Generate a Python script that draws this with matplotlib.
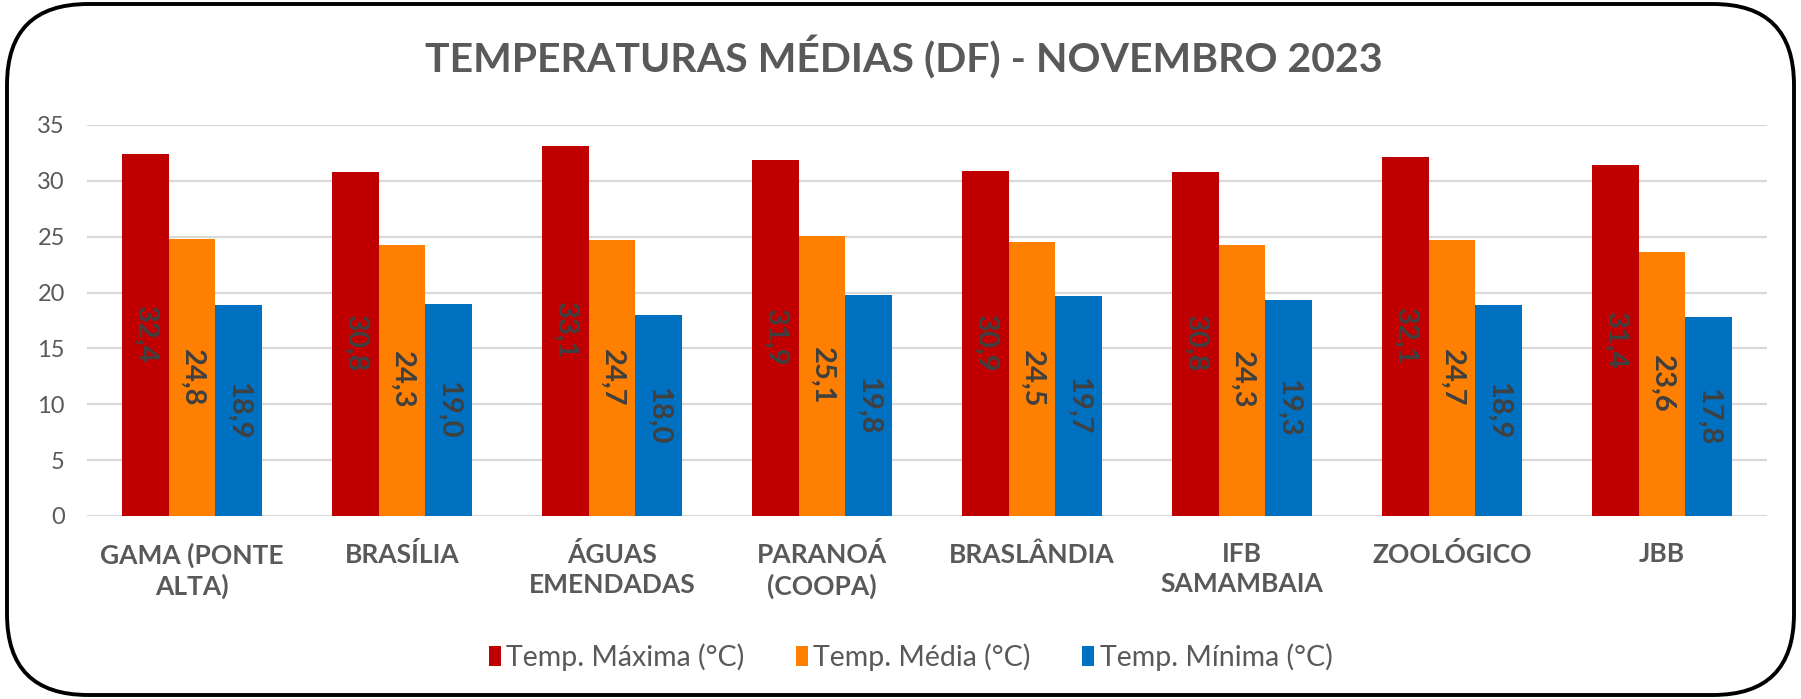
import matplotlib
matplotlib.use("Agg")
import matplotlib.pyplot as plt
from matplotlib.patches import Patch, FancyBboxPatch
import numpy as np

categories = ["GAMA (PONTE\nALTA)", "BRASÍLIA", "ÁGUAS\nEMENDADAS", "PARANOÁ\n(COOPA)",
              "BRASLÂNDIA", "IFB\nSAMAMBAIA", "ZOOLÓGICO", "JBB"]
temp_max = [32.4, 30.8, 33.1, 31.9, 30.9, 30.8, 32.1, 31.4]
temp_med = [24.8, 24.3, 24.7, 25.1, 24.5, 24.3, 24.7, 23.6]
temp_min = [18.9, 19.0, 18.0, 19.8, 19.7, 19.3, 18.9, 17.8]
series_names = ["Temp. Máxima (°C)", "Temp. Média (°C)", "Temp. Mínima (°C)"]
colors = ["#C00000", "#FF8000", "#0070C0"]
title = "TEMPERATURAS MÉDIAS (DF) - NOVEMBRO 2023"
yticks = [0, 5, 10, 15, 20, 25, 30, 35]

plt.rcParams['font.family'] = ['Lato', 'DejaVu Sans']
W, H = 1801, 699
fig = plt.figure(figsize=(W / 100, H / 100), dpi=100)
fig.patch.set_facecolor("white")

# rounded border
border = FancyBboxPatch((7 / W, 4 / H), (W - 14) / W, (H - 8) / H,
                        boxstyle="round,pad=0,rounding_size=0.045",
                        transform=fig.transFigure, facecolor="none",
                        edgecolor="black", linewidth=2.8, zorder=0,
                        mutation_aspect=W / H)
fig.patches.append(border)

ax = fig.add_axes([87 / W, (H - 516) / H, 1680 / W, (516 - 125) / H])
ax.set_facecolor("none")
ax.set_zorder(2)

x = np.arange(len(categories))
bw = 0.222
gray = "#595959"
for i, (vals, c) in enumerate(zip([temp_max, temp_med, temp_min], colors)):
    pos = x + (i - 1) * bw
    ax.bar(pos, vals, width=bw, color=c, zorder=3, linewidth=0)
    for p, v in zip(pos, vals):
        ax.text(p, v / 2, f"{v:.1f}".replace(".", ","), rotation=270,
                ha="center", va="center", fontsize=21, fontweight="bold",
                color="#404040", zorder=4, rotation_mode="anchor")

ax.set_xlim(-0.5, len(categories) - 0.5)
ax.set_ylim(0, 35)
ax.set_yticks(yticks)
ax.set_yticklabels([str(t) for t in yticks], fontsize=17, color=gray)
ax.set_xticks(x)
ax.set_xticklabels(categories, fontsize=19, fontweight="bold", color=gray,
                   linespacing=1.3)
ax.tick_params(axis="y", length=0, pad=16)
ax.tick_params(axis="x", length=0, pad=19)
ax.grid(axis="y", color="#D9D9D9", linewidth=1.6, zorder=0)
ax.set_axisbelow(True)
for s in ax.spines.values():
    s.set_visible(False)

fig.text(0.502, (H - 57) / H, title, ha="center", va="center", fontsize=29.5,
         fontweight="bold", color=gray)

handles = [Patch(facecolor=c, edgecolor="none") for c in colors]
fig.legend(handles, series_names, loc="center", bbox_to_anchor=(0.5056, 42 / H),
           ncol=3, frameon=False, fontsize=20.5, handlelength=0.42, handleheight=0.7,
           handletextpad=0.2, columnspacing=1.8, labelcolor=gray)

fig.savefig("out.png", dpi=100, facecolor="white")
